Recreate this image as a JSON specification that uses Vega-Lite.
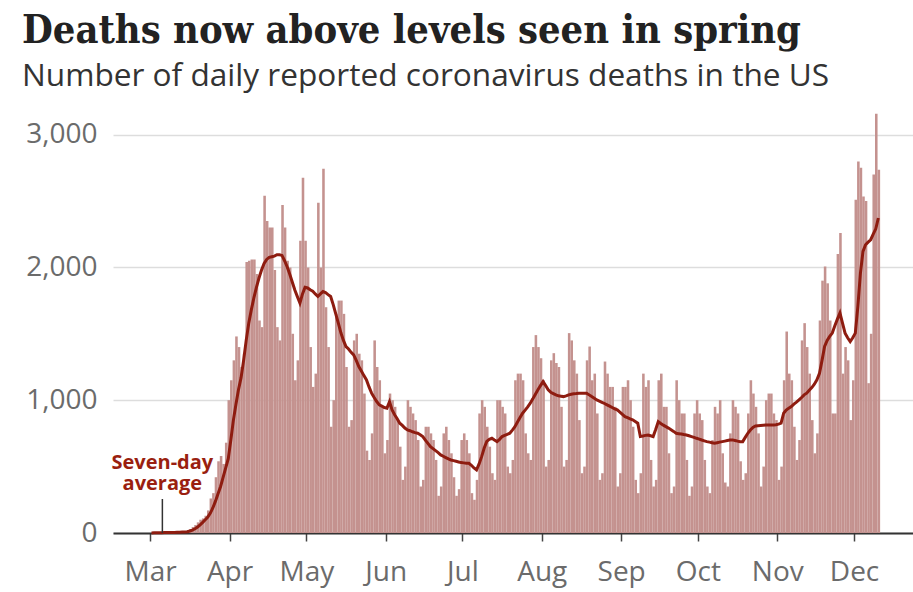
{
 "$schema": "https://vega.github.io/schema/vega-lite/v6.json",
 "width": 800, "height": 425,
 "autosize": {"type": "none"},
 "padding": {"left": 113, "top": 108, "right": 0, "bottom": 59},
 "background": "white",
 "title": {
  "text": "Deaths now above levels seen in spring",
  "subtitle": "Number of daily reported coronavirus deaths in the US",
  "anchor": "start", "frame": "group", "dx": -91, "offset": 14,
  "font": "DejaVu Serif Condensed", "fontSize": 39.5, "fontWeight": "bold", "color": "#222222",
  "subtitleFont": "Open Sans", "subtitleFontSize": 31.6, "subtitleColor": "#333333", "subtitlePadding": 10
 },
 "data": {"values": [
{"date":"2020-03-01","deaths":1,"avg":0},{"date":"2020-03-02","deaths":5,"avg":1},{"date":"2020-03-03","deaths":2,"avg":2},{"date":"2020-03-04","deaths":3,"avg":2},{"date":"2020-03-05","deaths":1,"avg":2},{"date":"2020-03-06","deaths":3,"avg":3},{"date":"2020-03-07","deaths":4,"avg":3},{"date":"2020-03-08","deaths":3,"avg":3},{"date":"2020-03-09","deaths":4,"avg":3},{"date":"2020-03-10","deaths":6,"avg":4},{"date":"2020-03-11","deaths":8,"avg":5},{"date":"2020-03-12","deaths":10,"avg":6},{"date":"2020-03-13","deaths":12,"avg":7},{"date":"2020-03-14","deaths":11,"avg":8},{"date":"2020-03-15","deaths":20,"avg":10},{"date":"2020-03-16","deaths":30,"avg":15},{"date":"2020-03-17","deaths":45,"avg":22},{"date":"2020-03-18","deaths":60,"avg":32},{"date":"2020-03-19","deaths":80,"avg":45},{"date":"2020-03-20","deaths":100,"avg":62},{"date":"2020-03-21","deaths":110,"avg":80},{"date":"2020-03-22","deaths":130,"avg":100},{"date":"2020-03-23","deaths":170,"avg":120},{"date":"2020-03-24","deaths":260,"avg":150},{"date":"2020-03-25","deaths":300,"avg":190},{"date":"2020-03-26","deaths":420,"avg":240},{"date":"2020-03-27","deaths":540,"avg":295},{"date":"2020-03-28","deaths":580,"avg":350},{"date":"2020-03-29","deaths":520,"avg":420},{"date":"2020-03-30","deaths":680,"avg":490},{"date":"2020-03-31","deaths":1000,"avg":560},
{"date":"2020-04-01","deaths":1150,"avg":700},{"date":"2020-04-02","deaths":1300,"avg":850},{"date":"2020-04-03","deaths":1480,"avg":970},{"date":"2020-04-04","deaths":1400,"avg":1080},{"date":"2020-04-05","deaths":1250,"avg":1170},{"date":"2020-04-06","deaths":1350,"avg":1300},{"date":"2020-04-07","deaths":2040,"avg":1450},{"date":"2020-04-08","deaths":2050,"avg":1580},{"date":"2020-04-09","deaths":2060,"avg":1680},{"date":"2020-04-10","deaths":2060,"avg":1770},{"date":"2020-04-11","deaths":1950,"avg":1850},{"date":"2020-04-12","deaths":1600,"avg":1920},{"date":"2020-04-13","deaths":1550,"avg":1980},{"date":"2020-04-14","deaths":2540,"avg":2030},{"date":"2020-04-15","deaths":2350,"avg":2060},{"date":"2020-04-16","deaths":2300,"avg":2075},{"date":"2020-04-17","deaths":2300,"avg":2080},{"date":"2020-04-18","deaths":1980,"avg":2085},{"date":"2020-04-19","deaths":1550,"avg":2095},{"date":"2020-04-20","deaths":1450,"avg":2095},{"date":"2020-04-21","deaths":2470,"avg":2090},{"date":"2020-04-22","deaths":2300,"avg":2050},{"date":"2020-04-23","deaths":2050,"avg":2005},{"date":"2020-04-24","deaths":2000,"avg":1950},{"date":"2020-04-25","deaths":1500,"avg":1890},{"date":"2020-04-26","deaths":1150,"avg":1830},{"date":"2020-04-27","deaths":1300,"avg":1780},{"date":"2020-04-28","deaths":2200,"avg":1731},{"date":"2020-04-29","deaths":2675,"avg":1800},{"date":"2020-04-30","deaths":2200,"avg":1850},
{"date":"2020-05-01","deaths":2000,"avg":1845},{"date":"2020-05-02","deaths":1400,"avg":1831},{"date":"2020-05-03","deaths":1100,"avg":1820},{"date":"2020-05-04","deaths":1200,"avg":1800},{"date":"2020-05-05","deaths":2487,"avg":1781},{"date":"2020-05-06","deaths":2000,"avg":1800},{"date":"2020-05-07","deaths":2743,"avg":1818},{"date":"2020-05-08","deaths":1700,"avg":1810},{"date":"2020-05-09","deaths":1400,"avg":1795},{"date":"2020-05-10","deaths":800,"avg":1781},{"date":"2020-05-11","deaths":1000,"avg":1720},{"date":"2020-05-12","deaths":1650,"avg":1650},{"date":"2020-05-13","deaths":1750,"avg":1580},{"date":"2020-05-14","deaths":1750,"avg":1507},{"date":"2020-05-15","deaths":1650,"avg":1450},{"date":"2020-05-16","deaths":1250,"avg":1404},{"date":"2020-05-17","deaths":800,"avg":1385},{"date":"2020-05-18","deaths":850,"avg":1360},{"date":"2020-05-19","deaths":1450,"avg":1341},{"date":"2020-05-20","deaths":1500,"avg":1300},{"date":"2020-05-21","deaths":1350,"avg":1253},{"date":"2020-05-22","deaths":1300,"avg":1220},{"date":"2020-05-23","deaths":1050,"avg":1185},{"date":"2020-05-24","deaths":620,"avg":1153},{"date":"2020-05-25","deaths":550,"avg":1100},{"date":"2020-05-26","deaths":750,"avg":1053},{"date":"2020-05-27","deaths":1450,"avg":1020},{"date":"2020-05-28","deaths":1250,"avg":990},{"date":"2020-05-29","deaths":1150,"avg":965},{"date":"2020-05-30","deaths":950,"avg":955},{"date":"2020-05-31","deaths":600,"avg":945},
{"date":"2020-06-01","deaths":700,"avg":940},{"date":"2020-06-02","deaths":1050,"avg":989},{"date":"2020-06-03","deaths":1000,"avg":927},{"date":"2020-06-04","deaths":950,"avg":890},{"date":"2020-06-05","deaths":850,"avg":860},{"date":"2020-06-06","deaths":650,"avg":827},{"date":"2020-06-07","deaths":400,"avg":810},{"date":"2020-06-08","deaths":500,"avg":790},{"date":"2020-06-09","deaths":1000,"avg":776},{"date":"2020-06-10","deaths":950,"avg":770},{"date":"2020-06-11","deaths":900,"avg":762},{"date":"2020-06-12","deaths":850,"avg":756},{"date":"2020-06-13","deaths":700,"avg":751},{"date":"2020-06-14","deaths":350,"avg":740},{"date":"2020-06-15","deaths":400,"avg":726},{"date":"2020-06-16","deaths":800,"avg":700},{"date":"2020-06-17","deaths":800,"avg":675},{"date":"2020-06-18","deaths":750,"avg":650},{"date":"2020-06-19","deaths":700,"avg":635},{"date":"2020-06-20","deaths":550,"avg":620},{"date":"2020-06-21","deaths":280,"avg":605},{"date":"2020-06-22","deaths":350,"avg":588},{"date":"2020-06-23","deaths":750,"avg":578},{"date":"2020-06-24","deaths":800,"avg":568},{"date":"2020-06-25","deaths":700,"avg":558},{"date":"2020-06-26","deaths":600,"avg":550},{"date":"2020-06-27","deaths":420,"avg":545},{"date":"2020-06-28","deaths":280,"avg":540},{"date":"2020-06-29","deaths":330,"avg":535},{"date":"2020-06-30","deaths":700,"avg":530},
{"date":"2020-07-01","deaths":750,"avg":528},{"date":"2020-07-02","deaths":700,"avg":526},{"date":"2020-07-03","deaths":600,"avg":525},{"date":"2020-07-04","deaths":300,"avg":510},{"date":"2020-07-05","deaths":250,"avg":490},{"date":"2020-07-06","deaths":400,"avg":475},{"date":"2020-07-07","deaths":900,"avg":520},{"date":"2020-07-08","deaths":1000,"avg":575},{"date":"2020-07-09","deaths":950,"avg":640},{"date":"2020-07-10","deaths":800,"avg":690},{"date":"2020-07-11","deaths":650,"avg":705},{"date":"2020-07-12","deaths":450,"avg":713},{"date":"2020-07-13","deaths":400,"avg":700},{"date":"2020-07-14","deaths":1000,"avg":688},{"date":"2020-07-15","deaths":1000,"avg":705},{"date":"2020-07-16","deaths":950,"avg":726},{"date":"2020-07-17","deaths":900,"avg":735},{"date":"2020-07-18","deaths":500,"avg":743},{"date":"2020-07-19","deaths":450,"avg":751},{"date":"2020-07-20","deaths":550,"avg":775},{"date":"2020-07-21","deaths":1150,"avg":801},{"date":"2020-07-22","deaths":1200,"avg":835},{"date":"2020-07-23","deaths":1200,"avg":870},{"date":"2020-07-24","deaths":1150,"avg":902},{"date":"2020-07-25","deaths":750,"avg":925},{"date":"2020-07-26","deaths":600,"avg":950},{"date":"2020-07-27","deaths":550,"avg":977},{"date":"2020-07-28","deaths":1400,"avg":1010},{"date":"2020-07-29","deaths":1490,"avg":1045},{"date":"2020-07-30","deaths":1400,"avg":1078},{"date":"2020-07-31","deaths":1316,"avg":1110},
{"date":"2020-08-01","deaths":1150,"avg":1140},{"date":"2020-08-02","deaths":500,"avg":1110},{"date":"2020-08-03","deaths":550,"avg":1078},{"date":"2020-08-04","deaths":1300,"avg":1060},{"date":"2020-08-05","deaths":1354,"avg":1050},{"date":"2020-08-06","deaths":1280,"avg":1040},{"date":"2020-08-07","deaths":1250,"avg":1033},{"date":"2020-08-08","deaths":950,"avg":1030},{"date":"2020-08-09","deaths":500,"avg":1027},{"date":"2020-08-10","deaths":550,"avg":1032},{"date":"2020-08-11","deaths":1505,"avg":1040},{"date":"2020-08-12","deaths":1450,"avg":1045},{"date":"2020-08-13","deaths":1300,"avg":1048},{"date":"2020-08-14","deaths":1200,"avg":1050},{"date":"2020-08-15","deaths":850,"avg":1053},{"date":"2020-08-16","deaths":450,"avg":1053},{"date":"2020-08-17","deaths":500,"avg":1053},{"date":"2020-08-18","deaths":1300,"avg":1053},{"date":"2020-08-19","deaths":1404,"avg":1040},{"date":"2020-08-20","deaths":1150,"avg":1027},{"date":"2020-08-21","deaths":1200,"avg":1015},{"date":"2020-08-22","deaths":900,"avg":1002},{"date":"2020-08-23","deaths":400,"avg":993},{"date":"2020-08-24","deaths":450,"avg":984},{"date":"2020-08-25","deaths":1291,"avg":975},{"date":"2020-08-26","deaths":1200,"avg":965},{"date":"2020-08-27","deaths":1100,"avg":955},{"date":"2020-08-28","deaths":1100,"avg":945},{"date":"2020-08-29","deaths":950,"avg":935},{"date":"2020-08-30","deaths":350,"avg":927},{"date":"2020-08-31","deaths":450,"avg":910},
{"date":"2020-09-01","deaths":1100,"avg":893},{"date":"2020-09-02","deaths":1100,"avg":876},{"date":"2020-09-03","deaths":1150,"avg":868},{"date":"2020-09-04","deaths":1000,"avg":860},{"date":"2020-09-05","deaths":800,"avg":852},{"date":"2020-09-06","deaths":400,"avg":840},{"date":"2020-09-07","deaths":300,"avg":827},{"date":"2020-09-08","deaths":450,"avg":726},{"date":"2020-09-09","deaths":1200,"avg":730},{"date":"2020-09-10","deaths":1100,"avg":735},{"date":"2020-09-11","deaths":1150,"avg":738},{"date":"2020-09-12","deaths":550,"avg":732},{"date":"2020-09-13","deaths":350,"avg":726},{"date":"2020-09-14","deaths":400,"avg":780},{"date":"2020-09-15","deaths":1150,"avg":839},{"date":"2020-09-16","deaths":1200,"avg":825},{"date":"2020-09-17","deaths":950,"avg":812},{"date":"2020-09-18","deaths":950,"avg":801},{"date":"2020-09-19","deaths":600,"avg":790},{"date":"2020-09-20","deaths":300,"avg":778},{"date":"2020-09-21","deaths":350,"avg":765},{"date":"2020-09-22","deaths":1150,"avg":751},{"date":"2020-09-23","deaths":1000,"avg":748},{"date":"2020-09-24","deaths":900,"avg":745},{"date":"2020-09-25","deaths":900,"avg":741},{"date":"2020-09-26","deaths":550,"avg":738},{"date":"2020-09-27","deaths":280,"avg":732},{"date":"2020-09-28","deaths":350,"avg":726},{"date":"2020-09-29","deaths":900,"avg":720},{"date":"2020-09-30","deaths":1000,"avg":713},
{"date":"2020-10-01","deaths":900,"avg":707},{"date":"2020-10-02","deaths":850,"avg":700},{"date":"2020-10-03","deaths":550,"avg":694},{"date":"2020-10-04","deaths":350,"avg":688},{"date":"2020-10-05","deaths":300,"avg":684},{"date":"2020-10-06","deaths":700,"avg":680},{"date":"2020-10-07","deaths":950,"avg":676},{"date":"2020-10-08","deaths":900,"avg":680},{"date":"2020-10-09","deaths":1000,"avg":684},{"date":"2020-10-10","deaths":600,"avg":688},{"date":"2020-10-11","deaths":380,"avg":692},{"date":"2020-10-12","deaths":350,"avg":696},{"date":"2020-10-13","deaths":750,"avg":700},{"date":"2020-10-14","deaths":1000,"avg":701},{"date":"2020-10-15","deaths":950,"avg":697},{"date":"2020-10-16","deaths":900,"avg":692},{"date":"2020-10-17","deaths":540,"avg":688},{"date":"2020-10-18","deaths":400,"avg":688},{"date":"2020-10-19","deaths":450,"avg":720},{"date":"2020-10-20","deaths":900,"avg":751},{"date":"2020-10-21","deaths":1150,"avg":775},{"date":"2020-10-22","deaths":1050,"avg":795},{"date":"2020-10-23","deaths":950,"avg":806},{"date":"2020-10-24","deaths":750,"avg":808},{"date":"2020-10-25","deaths":350,"avg":810},{"date":"2020-10-26","deaths":500,"avg":812},{"date":"2020-10-27","deaths":1000,"avg":814},{"date":"2020-10-28","deaths":1050,"avg":814},{"date":"2020-10-29","deaths":1050,"avg":814},{"date":"2020-10-30","deaths":900,"avg":814},{"date":"2020-10-31","deaths":850,"avg":815},
{"date":"2020-11-01","deaths":400,"avg":820},{"date":"2020-11-02","deaths":500,"avg":827},{"date":"2020-11-03","deaths":1150,"avg":902},{"date":"2020-11-04","deaths":1517,"avg":925},{"date":"2020-11-05","deaths":1200,"avg":940},{"date":"2020-11-06","deaths":1150,"avg":952},{"date":"2020-11-07","deaths":800,"avg":970},{"date":"2020-11-08","deaths":550,"avg":985},{"date":"2020-11-09","deaths":700,"avg":1002},{"date":"2020-11-10","deaths":1450,"avg":1020},{"date":"2020-11-11","deaths":1580,"avg":1040},{"date":"2020-11-12","deaths":1400,"avg":1053},{"date":"2020-11-13","deaths":1200,"avg":1075},{"date":"2020-11-14","deaths":850,"avg":1095},{"date":"2020-11-15","deaths":600,"avg":1120},{"date":"2020-11-16","deaths":750,"avg":1153},{"date":"2020-11-17","deaths":1600,"avg":1203},{"date":"2020-11-18","deaths":1900,"avg":1300},{"date":"2020-11-19","deaths":2007,"avg":1404},{"date":"2020-11-20","deaths":1880,"avg":1450},{"date":"2020-11-21","deaths":1600,"avg":1480},{"date":"2020-11-22","deaths":900,"avg":1505},{"date":"2020-11-23","deaths":900,"avg":1560},{"date":"2020-11-24","deaths":2100,"avg":1610},{"date":"2020-11-25","deaths":2258,"avg":1656},{"date":"2020-11-26","deaths":1200,"avg":1580},{"date":"2020-11-27","deaths":1400,"avg":1505},{"date":"2020-11-28","deaths":1300,"avg":1470},{"date":"2020-11-29","deaths":850,"avg":1442},{"date":"2020-11-30","deaths":1150,"avg":1470},
{"date":"2020-12-01","deaths":2509,"avg":1505},{"date":"2020-12-02","deaths":2798,"avg":1706},{"date":"2020-12-03","deaths":2750,"avg":1957},{"date":"2020-12-04","deaths":2534,"avg":2120},{"date":"2020-12-05","deaths":2500,"avg":2170},{"date":"2020-12-06","deaths":1128,"avg":2190},{"date":"2020-12-07","deaths":1500,"avg":2208},{"date":"2020-12-08","deaths":2700,"avg":2250},{"date":"2020-12-09","deaths":3157,"avg":2290},{"date":"2020-12-10","deaths":2735,"avg":2372}
 ]},
 "layer": [
  {
   "mark": {"type": "bar", "color": "#c4928f", "binSpacing": 0},
   "encoding": {
    "x": {"field": "date", "type": "temporal", "timeUnit": "utcyearmonthdate",
     "scale": {"type": "utc", "domain": [{"year": 2020, "month": 2, "date": 15, "hours": 11, "utc": true}, {"year": 2020, "month": 12, "date": 24, "hours": 1, "utc": true}]},
     "axis": {"title": null, "format": "%b", "values": [
       {"year": 2020, "month": 3, "date": 1, "utc": true}, {"year": 2020, "month": 4, "date": 1, "utc": true},
       {"year": 2020, "month": 5, "date": 1, "utc": true}, {"year": 2020, "month": 6, "date": 1, "utc": true},
       {"year": 2020, "month": 7, "date": 1, "utc": true}, {"year": 2020, "month": 8, "date": 1, "utc": true},
       {"year": 2020, "month": 9, "date": 1, "utc": true}, {"year": 2020, "month": 10, "date": 1, "utc": true},
       {"year": 2020, "month": 11, "date": 1, "utc": true}, {"year": 2020, "month": 12, "date": 1, "utc": true}],
      "grid": false, "domainColor": "#333333", "domainWidth": 2, "tickColor": "#444444", "tickSize": 8, "tickWidth": 1.5,
      "labelFont": "Open Sans", "labelFontSize": 28, "labelColor": "#6b6b6b", "labelPadding": 17, "labelFlush": false}},
    "y": {"field": "deaths", "type": "quantitative",
     "scale": {"domain": [0, 3200], "nice": false},
     "axis": {"title": null, "values": [0, 1000, 2000, 3000], "format": ",.0f", "grid": true, "gridColor": "#dddddd", "gridWidth": 1.5,
      "domain": false, "ticks": false, "labelFont": "Open Sans", "labelFontSize": 28, "labelColor": "#6b6b6b", "labelPadding": 16}}
   }
  },
  {
   "mark": {"type": "line", "color": "#8e1c10", "strokeWidth": 3},
   "encoding": {
    "x": {"field": "date", "type": "temporal", "timeUnit": "utcyearmonthdate", "bandPosition": 0.5},
    "y": {"field": "avg", "type": "quantitative"}
   }
  },
  {
   "data": {"values": [{}]},
   "mark": {"type": "rule", "color": "#333333", "strokeWidth": 1.5},
   "encoding": {
    "x": {"datum": {"year": 2020, "month": 3, "date": 5, "hours": 18, "utc": true}, "type": "temporal"},
    "y": {"datum": 0, "type": "quantitative"},
    "y2": {"datum": 256}
   }
  },
  {
   "data": {"values": [{}]},
   "mark": {"type": "text", "text": ["Seven-day", "average"], "font": "Open Sans", "fontWeight": "bold", "fontSize": 20, "color": "#9a1f10", "align": "center", "baseline": "middle", "lineHeight": 21},
   "encoding": {
    "x": {"datum": {"year": 2020, "month": 3, "date": 5, "hours": 18, "utc": true}, "type": "temporal"},
    "y": {"datum": 530, "type": "quantitative"}
   }
  }
 ],
 "config": {"view": {"stroke": null}}
}
